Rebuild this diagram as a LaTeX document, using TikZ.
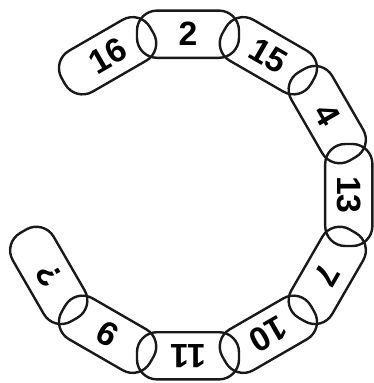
\documentclass[tikz,border=0pt]{standalone}
\usepackage{fontspec}
\setmainfont{Liberation Sans}
\usepackage{tikz}
\usetikzlibrary{positioning}

\begin{document}
\begin{tikzpicture}[
x=1cm,
y=1cm,
every node/.style={font=\fontsize{24}{28}\selectfont\bfseries},
link/.style={rectangle,rounded corners=0.5cm,draw=black!90,line width=0.06cm,inner sep=0pt,minimum width=2.55cm,minimum height=1.18cm}
]
\useasboundingbox (-4.7,-4.7) rectangle (4.65,4.875);
\node[link,rotate=30] (l16) at (120:4.02) {16};
\node[link,rotate=0] (l2) at (90:4.02) {2};
\node[link,rotate=-30] (l15) at (60:4.02) {15};
\node[link,rotate=-60] (l4) at (30:4.02) {4};
\node[link,rotate=-90] (l13) at (0:4.02) {13};
\node[link,rotate=-120] (l7) at (-30:4.02) {7};
\node[link,rotate=-150] (l10) at (-60:4.02) {10};
\node[link,rotate=-180] (l11) at (-90:4.02) {11};
\node[link,rotate=-210] (l9) at (-120:4.02) {9};
\node[link,rotate=-240] (lq) at (-150:4.02) {?};
\end{tikzpicture}
\end{document}
